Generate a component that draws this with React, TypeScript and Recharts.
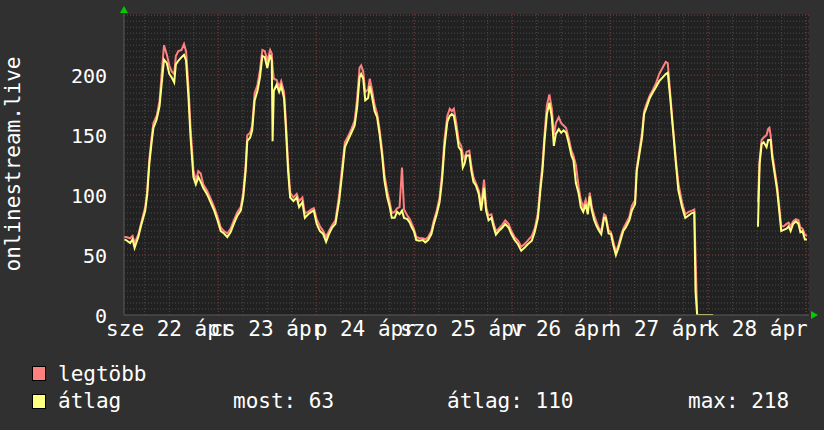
import React from 'react';
import { LineChart, Line, XAxis, YAxis, CartesianGrid } from 'recharts';

// hours since 22 Apr 00:00
const hours = [
  0.9, 1.4, 2.4, 3.0, 3.5, 4.4, 5.2, 6.1, 6.6, 7.1, 7.7, 8.1, 8.9, 9.6, 10.1, 10.7, 11.4, 12.0, 12.6, 13.2,
  13.6, 14.2, 15.0, 15.6, 16.1, 16.7, 17.2, 17.9, 18.5, 19.1, 19.7, 20.3, 21.2, 22.0, 23.0, 23.8, 24.6, 25.4, 26.2, 27.0,
  27.8, 28.7, 29.5, 30.1, 30.7, 31.1, 31.8, 32.3, 32.9, 33.6, 34.2, 34.8, 35.4, 36.0, 36.7, 37.1, 37.3, 37.6, 38.3, 38.9,
  39.4, 40.1, 40.5, 41.1, 41.6, 42.4, 43.2, 43.8, 44.6, 45.2, 46.0, 46.8, 47.4, 48.1, 48.9, 49.7, 50.4, 51.1, 51.9, 52.7,
  53.6, 54.4, 55.0, 55.8, 56.6, 57.4, 58.0, 58.6, 59.0, 59.5, 60.0, 60.7, 61.1, 61.6, 62.3, 62.9, 63.5, 64.1, 64.7, 65.4,
  66.0, 66.5, 67.2, 67.8, 68.4, 69.0, 69.5, 70.3, 70.9, 71.4, 71.9, 72.5, 73.3, 74.1, 74.7, 75.4, 76.2, 76.8, 77.5, 78.2,
  78.8, 79.4, 80.1, 80.7, 81.2, 81.7, 82.3, 82.9, 83.5, 83.9, 84.3, 84.8, 85.5, 86.0, 86.5, 87.1, 87.8, 88.4, 89.1, 89.6,
  90.2, 90.9, 91.4, 92.0, 92.7, 93.5, 94.3, 95.1, 95.8, 96.6, 97.4, 98.2, 99.0, 99.8, 100.8, 101.5, 102.3, 102.9, 103.4, 103.9,
  104.5, 105.1, 105.7, 106.2, 106.7, 107.4, 108.0, 108.6, 109.2, 109.8, 110.5, 111.0, 111.6, 112.3, 112.8, 113.4, 114.0, 114.5, 115.0, 115.5,
  116.1, 116.7, 117.3, 117.8, 118.5, 118.9, 119.6, 120.2, 120.7, 121.4, 122.0, 122.6, 123.2, 123.8, 124.7, 125.3, 126.1, 126.5, 127.1, 127.8,
  128.3, 128.9, 129.7, 130.5, 131.2, 132.0, 132.8, 133.6, 134.1, 134.7, 135.4, 136.1, 136.7, 137.6, 138.4, 139.2, 140.0, 140.6, 140.9, 141.3,
  145.2, 150.0, 156.2, 156.6, 157.1, 157.6, 158.3, 158.7, 159.0, 159.3, 159.7, 160.3, 160.9, 161.4, 161.9, 162.5, 163.2, 163.7, 164.2, 164.8,
  165.5, 166.1, 166.6, 167.1, 167.7, 168.2,
];

// legtöbb
const maxVals = [
  65, 65, 64, 66, 60, 67, 78, 90, 104, 130, 149, 160, 166, 178, 200, 225, 217, 208, 203, 201,
  216, 220, 221, 226, 220, 190, 156, 121, 112, 120, 118, 109, 104, 98, 90, 82, 73, 70, 68, 72,
  79, 86, 90, 102, 125, 150, 152, 158, 185, 192, 204, 221, 220, 212, 221, 218, 206, 197, 196, 190,
  195, 186, 165, 126, 102, 98, 101, 95, 98, 85, 86, 88, 89, 80, 74, 70, 65, 70, 75, 79,
  100, 125, 144, 149, 155, 162, 180, 206, 208, 203, 186, 188, 197, 189, 175, 168, 155, 138, 117, 103,
  94, 85, 86, 89, 90, 123, 88, 83, 80, 76, 72, 65, 64, 64, 63, 65, 70, 79, 87, 98,
  117, 146, 166, 172, 170, 172, 160, 145, 141, 134, 130, 136, 137, 124, 115, 110, 104, 91, 113, 90,
  83, 84, 77, 70, 72, 75, 79, 76, 70, 65, 62, 57, 59, 62, 66, 72, 85, 109, 125, 150,
  175, 184, 172, 150, 160, 165, 160, 158, 156, 148, 137, 133, 125, 106, 96, 90, 96, 88, 102, 90,
  83, 77, 72, 70, 84, 83, 71, 69, 62, 53, 58, 66, 72, 76, 82, 91, 96, 122, 136, 152,
  170, 176, 183, 188, 193, 201, 206, 211, 210, 185, 156, 129, 110, 94, 84, 86, 87, 88, 50, 0,
  0, null, 94, 129, 146, 148, 150, 155, 156, 150, 135, 121, 107, 91, 74, 74, 76, 77, 74, 78,
  80, 79, 73, 72, 67, 66,
];

// átlag
const avgVals = [
  63, 62.5, 60, 63, 56, 65, 76, 87, 101, 126, 145, 156, 163, 174, 192, 213, 210, 201, 198, 194,
  209, 212, 215, 217, 212, 181, 148, 115, 109, 115, 111, 106, 101, 95, 87, 79, 70, 68, 65, 69,
  76, 83, 87, 98, 120, 145, 148, 154, 179, 187, 198, 216, 215, 206, 217, 212, 145, 187, 192, 186,
  191, 181, 159, 120, 98, 95, 98, 90, 94, 81, 84, 86, 87, 76, 70, 67.5, 61, 67.5, 73, 76,
  95, 120, 140, 146, 152, 158, 173, 198, 201, 197, 179, 181, 191, 183, 170, 165, 151, 134, 112, 98,
  90, 81, 81, 86, 84, 87, 81, 80, 77, 73, 70, 62.5, 62, 62.5, 60.5, 62.5, 67.5, 76, 84, 94,
  112, 140, 161, 166, 167.5, 166, 154, 140, 137, 123, 126, 133, 133, 120, 111, 108, 101, 87, 106, 87,
  79, 81, 74, 67, 70, 72.5, 76, 73, 67.5, 62.5, 59, 53.6, 56, 59, 62, 69, 81, 104, 120, 145,
  167.5, 177, 165, 141, 151, 155, 152, 154, 152, 144, 133, 129, 110, 101, 90, 86, 92.5, 84, 99, 87,
  79, 74, 70, 67.5, 81, 81, 68, 67.5, 59, 50, 56, 63, 70, 73, 79, 87, 92.5, 120, 133, 148,
  167.5, 173, 181, 186, 190, 195, 198, 201, 202, 181, 154, 126, 104, 90, 81, 83, 85, 85.5, 20, 0,
  0, null, 73.6, 126, 142.5, 144, 140, 146, 146, 146, 131, 117.5, 104, 87, 70, 71, 72, 74, 70, 76,
  78, 76, 69, 70, 63, 63,
];

const dayLabels = ['sze 22 ápr', 'cs 23 ápr', 'p 24 ápr', 'szo 25 ápr', 'v 26 ápr', 'h 27 ápr', 'k 28 ápr'];
const dayLabelHours = [12, 36, 60, 84, 108, 132, 156];
const yTicks = [0, 50, 100, 150, 200];
const majorY = [50, 100, 150, 200, 250];
const majorX = [24, 48, 72, 96, 120, 144, 168];
const legendStats = ['most: 63', 'átlag: 110', 'max: 218'];

const minorY = Array.from({ length: 50 }, (_, i) => (i + 1) * 5);
const minorX = Array.from({ length: 28 }, (_, i) => (i + 1) * 6);

const data = hours.map((h, i) => ({ h, max: maxVals[i], avg: avgVals[i] }));

const FONT = "'DejaVu Sans Mono', monospace";
const RED = '#ff8080';
const YELLOW = '#ffff80';

const XTick = (props: any) => {
  const { x, y, payload } = props;
  const i = dayLabelHours.indexOf(payload.value);
  return (
    <text x={x} y={y} dy={13} textAnchor="middle" fill="#fff" fontSize={21} fontFamily={FONT}>
      {dayLabels[i]}
    </text>
  );
};

const YTick = (props: any) => {
  const { y, payload } = props;
  return (
    <text x={107} y={y} dy={8} textAnchor="end" fill="#fff" fontSize={20} fontFamily={FONT}>
      {payload.value}
    </text>
  );
};

export default function App() {
  return (
    <div style={{ position: 'absolute', left: 0, top: 0, width: 824, height: 430, background: '#303030' }}>
      <LineChart width={824} height={430} data={data} margin={{ top: 14, right: 15, bottom: 0, left: 0 }}>
        <CartesianGrid
          fill="#212121"
          stroke="#4c4c4c"
          strokeDasharray="1 2"
          horizontalValues={minorY}
          verticalValues={minorX}
        />
        <CartesianGrid
          stroke="#7a3030"
          strokeDasharray="1 2"
          horizontalValues={majorY}
          verticalValues={majorX}
        />
        <XAxis
          type="number"
          dataKey="h"
          domain={[0.9, 168.7]}
          allowDataOverflow
          ticks={dayLabelHours}
          tick={<XTick />}
          tickLine={false}
          axisLine={{ stroke: '#5a5a5a' }}
          height={115}
          interval={0}
        />
        <YAxis
          domain={[0, 251]}
          allowDataOverflow
          ticks={yTicks}
          tick={<YTick />}
          tickLine={false}
          axisLine={{ stroke: '#5a5a5a' }}
          width={124}
          interval={0}
        />
        <Line dataKey="max" stroke={RED} strokeWidth={2} dot={false} type="linear" isAnimationActive={false} connectNulls={false} />
        <Line dataKey="avg" stroke={YELLOW} strokeWidth={2} dot={false} type="linear" isAnimationActive={false} connectNulls={false} />
      </LineChart>
      <svg width={824} height={430} style={{ position: 'absolute', left: 0, top: 0, pointerEvents: 'none' }}>
        <text
          x={13}
          y={164}
          transform="rotate(-90 13 164)"
          textAnchor="middle"
          dominantBaseline="central"
          fill="#fff"
          fontSize={21}
          fontFamily={FONT}
        >
          onlinestream.live
        </text>
        <polygon points="120,13 128,13 124,6" fill="#00cc00" />
        <polygon points="811,311 811,319 818,315" fill="#00cc00" />
        <rect x={32.5} y={366.5} width={13} height={14} fill={RED} stroke="#000" />
        <rect x={32.5} y={394.5} width={13} height={14} fill={YELLOW} stroke="#000" />
        <text x={58} y={381} fill="#fff" fontSize={21} fontFamily={FONT}>legtöbb</text>
        <text x={58} y={408} fill="#fff" fontSize={21} fontFamily={FONT}>átlag</text>
        <text x={233} y={408} fill="#fff" fontSize={21} fontFamily={FONT}>{legendStats[0]}</text>
        <text x={447} y={408} fill="#fff" fontSize={21} fontFamily={FONT}>{legendStats[1]}</text>
        <text x={688} y={408} fill="#fff" fontSize={21} fontFamily={FONT}>{legendStats[2]}</text>
      </svg>
    </div>
  );
}
